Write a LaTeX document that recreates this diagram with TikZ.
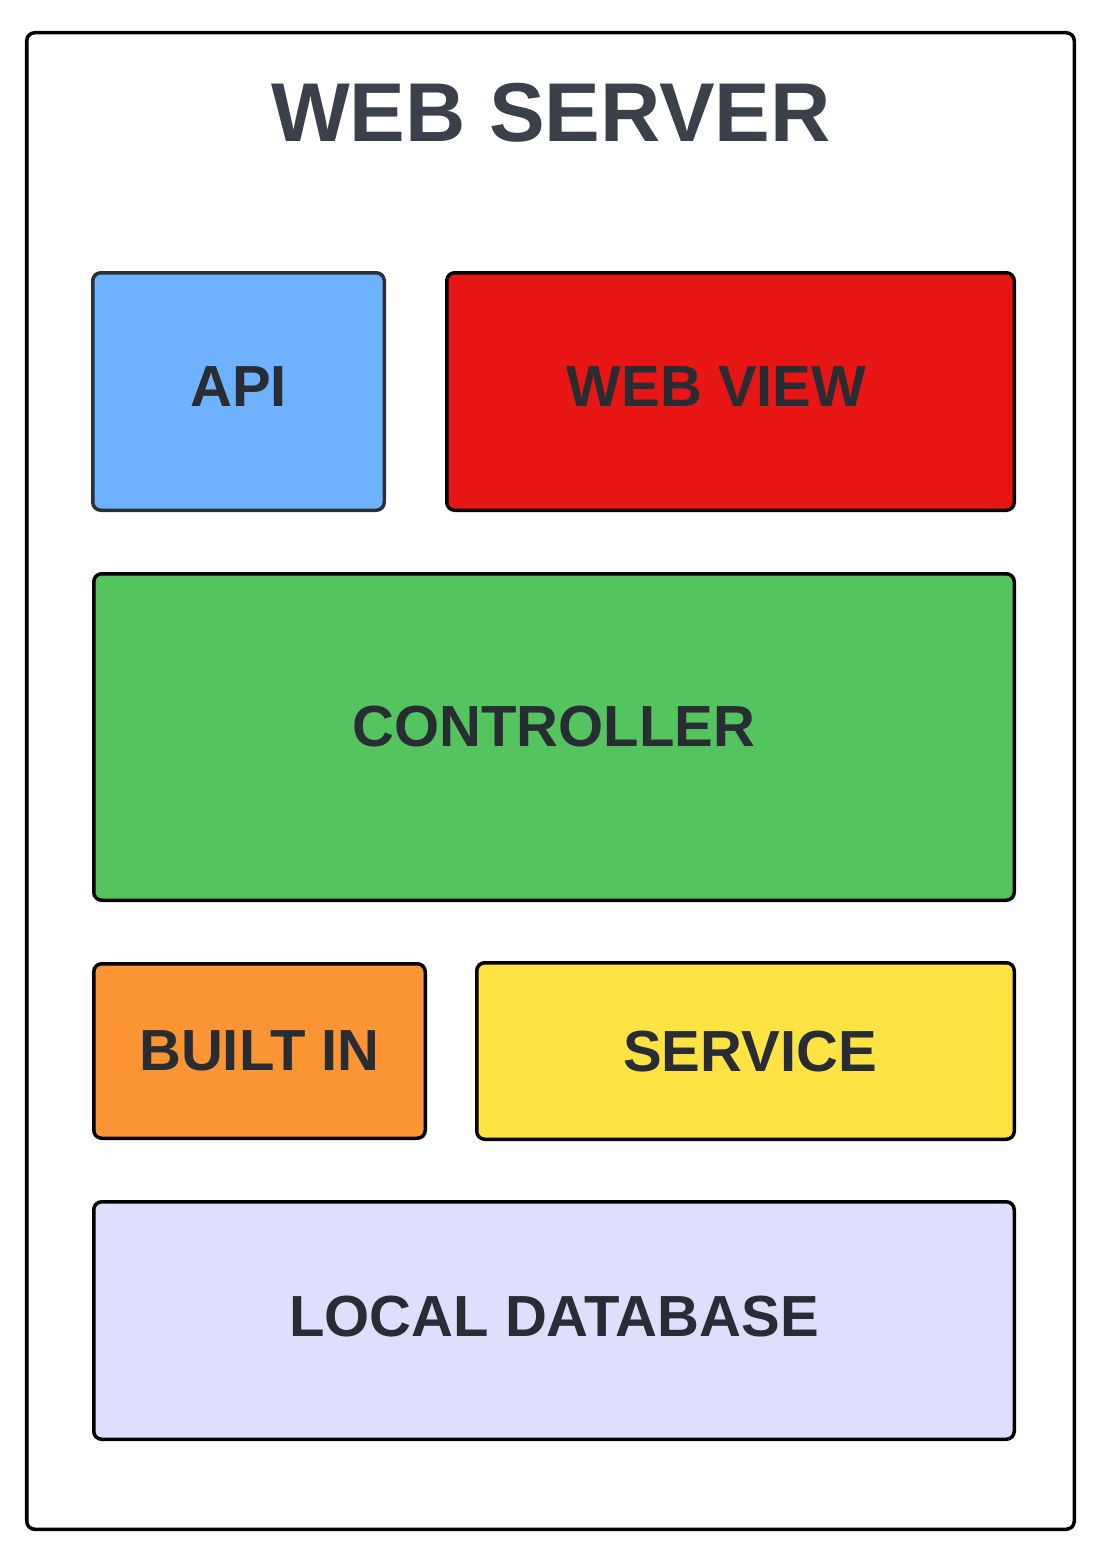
\documentclass[tikz,border=0pt]{standalone}
\usepackage{fontspec}
\setmainfont{Liberation Sans}
\usepackage{tikz}

\definecolor{titlegray}{HTML}{3A414B}
\definecolor{labelgray}{HTML}{282C33}
\definecolor{apiedge}{HTML}{2B2F36}
\definecolor{apiblue}{HTML}{6DB1FF}
\definecolor{viewred}{HTML}{E81515}
\definecolor{ctrlgreen}{HTML}{54C45E}
\definecolor{builtorange}{HTML}{FB9432}
\definecolor{serviceyellow}{HTML}{FFE343}
\definecolor{dblavender}{HTML}{DEDFFC}

\begin{document}
\begin{tikzpicture}
\pgfmathsetmacro{\LW}{0.07}
\pgfmathsetmacro{\R}{0.16}

\tikzset{
  frame/.style={draw=black, line width=\LW cm, rounded corners=\R cm, inner sep=0pt},
  layer/.style={frame, text=labelgray, font=\fontsize{33}{36}\selectfont\bfseries, text depth=0.18cm},
  heading/.style={text=titlegray, inner sep=0pt, font=\fontsize{47.5}{50}\selectfont\bfseries}
}

\useasboundingbox (0,0) rectangle (22.08,-31.12);

% outer box and title
\node[frame, minimum width=20.95cm, minimum height=29.93cm] (server) at (11.01,-15.62) {};
\node[heading] (title) at (11.02,-2.26) {WEB SERVER};

% top row
\node[layer, draw=apiedge, fill=apiblue, minimum width=5.83cm, minimum height=4.75cm] (api) at (4.77,-7.83) {API};
\node[layer, fill=viewred, minimum width=11.35cm, minimum height=4.75cm] (webview) at (14.61,-7.83) {WEB VIEW\hspace*{0.56cm}};

% middle
\node[layer, fill=ctrlgreen, minimum width=18.41cm, minimum height=6.53cm, text depth=0.44cm] (controller) at (11.08,-14.74) {CONTROLLER};

% lower row
\node[layer, fill=builtorange, minimum width=6.63cm, minimum height=3.49cm, text depth=0cm] (builtin) at (5.19,-21.02) {BUILT IN};
\node[layer, fill=serviceyellow, minimum width=10.75cm, minimum height=3.53cm, text depth=0cm] (service) at (14.91,-21.02) {\hspace*{0.18cm}SERVICE};

% bottom
\node[layer, fill=dblavender, minimum width=18.41cm, minimum height=4.75cm] (localdb) at (11.08,-26.41) {LOCAL DATABASE};
\end{tikzpicture}
\end{document}
